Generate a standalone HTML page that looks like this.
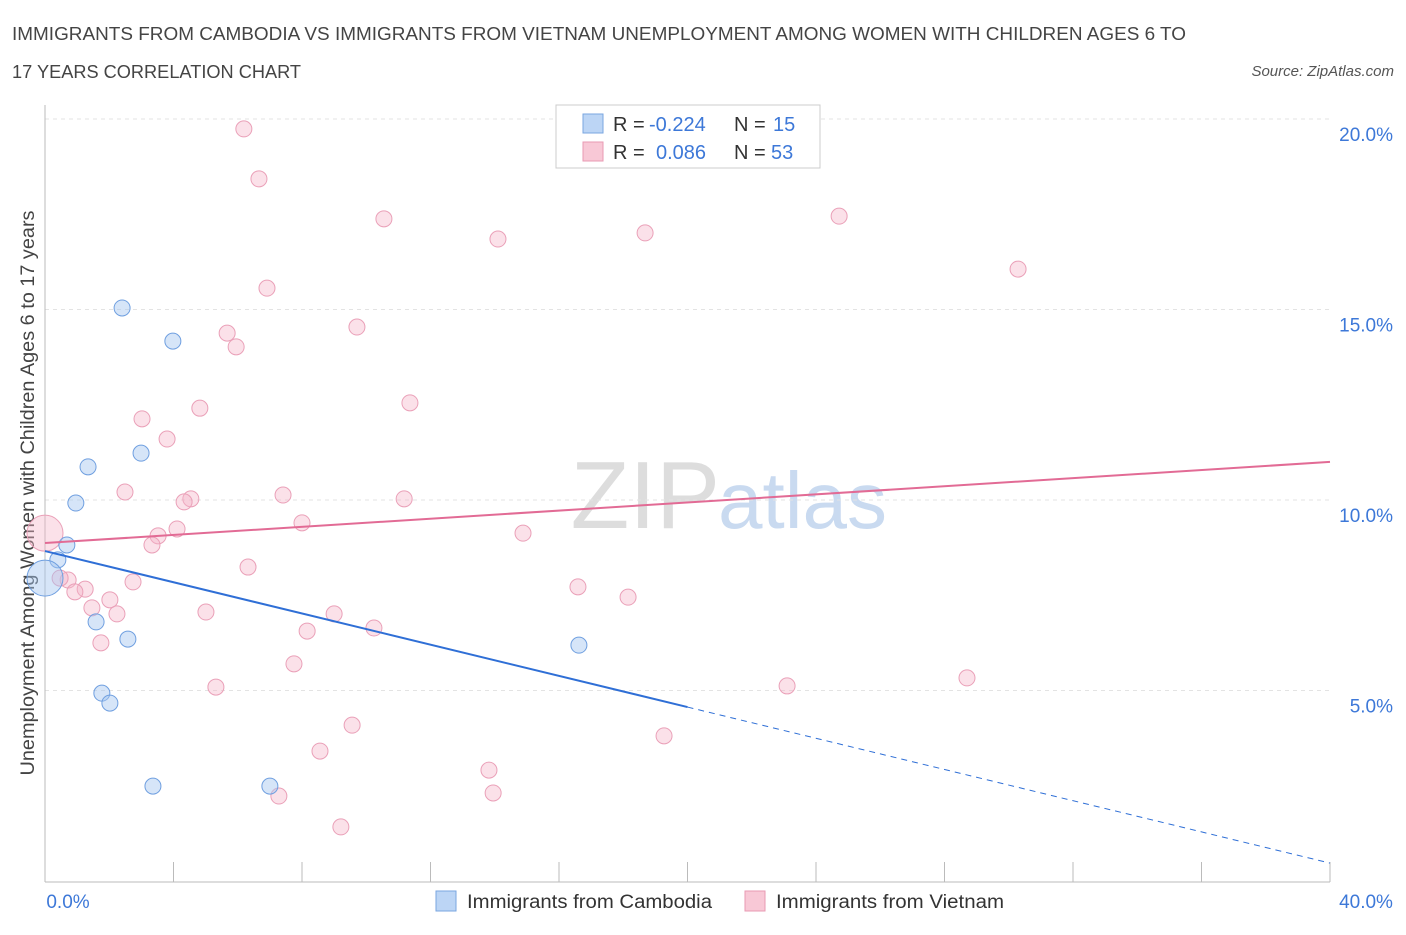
<!DOCTYPE html>
<html><head><meta charset="utf-8"><style>
body{margin:0;background:#fff;font-family:"Liberation Sans",sans-serif;}
svg text{font-family:"Liberation Sans",sans-serif;}
</style></head><body>
<svg id="c" width="1406" height="930">
<text x="12" y="40" font-size="18" fill="#444" textLength="1174" lengthAdjust="spacingAndGlyphs">IMMIGRANTS FROM CAMBODIA VS IMMIGRANTS FROM VIETNAM UNEMPLOYMENT AMONG WOMEN WITH CHILDREN AGES 6 TO</text>
<text x="12" y="78" font-size="18" fill="#444" textLength="289" lengthAdjust="spacingAndGlyphs">17 YEARS CORRELATION CHART</text>
<text x="1394" y="76" font-size="15" fill="#555" font-style="italic" text-anchor="end">Source: ZipAtlas.com</text>
<text x="720" y="528" font-size="96" fill="#ddd" font-family="Liberation Serif" text-anchor="end">ZIP</text>
<text x="718" y="528" font-size="80" fill="#c9daf0">atlas</text>
<text transform="translate(34,493) rotate(-90)" font-size="19" fill="#444" text-anchor="middle" textLength="565" lengthAdjust="spacingAndGlyphs">Unemployment Among Women with Children Ages 6 to 17 years</text>
<g id="grid"></g><g id="marks"></g>
<rect x="556" y="105" width="264" height="63" fill="#fff" stroke="#ccc"/>
<rect x="583" y="114" width="20" height="19" fill="#bcd5f5" stroke="#7aa6e0"/>
<rect x="583" y="142" width="20" height="19" fill="#f8c8d6" stroke="#e89ab3"/>
<g font-size="20">
<text x="613" y="131" fill="#333">R =</text><text x="649" y="131" fill="#3d78d8">-0.224</text><text x="734" y="131" fill="#333">N =</text><text x="773" y="131" fill="#3d78d8">15</text>
<text x="613" y="159" fill="#333">R =</text><text x="656" y="159" fill="#3d78d8">0.086</text><text x="734" y="159" fill="#333">N =</text><text x="771" y="159" fill="#3d78d8">53</text>
</g>
<rect x="436" y="891" width="20" height="20" fill="#bcd5f5" stroke="#7aa6e0"/>
<text x="467" y="908" font-size="19" fill="#333" textLength="245" lengthAdjust="spacingAndGlyphs">Immigrants from Cambodia</text>
<rect x="745" y="891" width="20" height="20" fill="#f8c8d6" stroke="#e89ab3"/>
<text x="776" y="908" font-size="19" fill="#333" textLength="228" lengthAdjust="spacingAndGlyphs">Immigrants from Vietnam</text>
</svg>
<script>
const yTicks=[5,10,15,20];
const xTickLabels=["0.0%","40.0%"];
const cambX=[2.40,3.98,2.99,1.34,0.96,0.68,0.40,0.0,1.59,2.58,1.77,2.02,3.36,7.00,16.62];
const cambY=[15.04,14.17,11.23,10.87,9.92,8.82,8.43,7.95,6.80,6.35,4.93,4.67,2.49,2.49,6.19];
const cambR=[8,8,8,8,8,8,8,18,8,8,8,8,8,8,8];
const vietX=[6.19,6.66,10.55,14.10,18.68,24.72,30.29,6.91,9.71,5.67,5.95,11.36,4.82,3.02,3.80,2.49,4.54,4.33,7.41,11.18,8.00,4.11,3.52,3.33,14.88,0,6.32,2.74,0.72,0.47,1.25,0.93,16.59,18.15,2.02,1.46,5.01,2.24,9.00,10.24,8.16,1.74,7.75,5.32,23.10,28.70,9.56,8.56,19.27,13.82,13.95,7.28,9.21];
const vietY=[19.74,18.43,17.38,16.85,17.01,17.45,16.06,15.56,14.54,14.38,14.02,12.55,12.41,12.13,11.60,10.21,10.03,9.95,10.13,10.03,9.40,9.24,9.06,8.82,9.13,9.13,8.24,7.85,7.90,7.95,7.66,7.59,7.72,7.45,7.38,7.17,7.06,7.01,7.01,6.64,6.56,6.25,5.70,5.09,5.12,5.33,4.09,3.41,3.81,2.91,2.31,2.23,1.42];
const cambLine=[8.66,0.47];
const vietLine=[8.87,11.0];
const NS="http://www.w3.org/2000/svg";
const X=v=>45+v*32.125, Y=v=>881-v*38.1;
function mk(p,t,a){const e=document.createElementNS(NS,t);for(const k in a)e.setAttribute(k,a[k]);p.appendChild(e);return e;}
const g=document.getElementById('grid'), m=document.getElementById('marks');
yTicks.forEach(t=>{
 let l=mk(g,'line',{x1:45,x2:1330,y1:Y(t),y2:Y(t),stroke:'#e3e3e3','stroke-dasharray':'4,4'});
 
 
 let tx=mk(g,'text',{x:1393,y:Y(t)+22,'font-size':19,fill:'#3d78d8','text-anchor':'end'});tx.textContent=t.toFixed(1)+'%';
 
 
});
let ax=mk(g,'line',{x1:45,x2:1330,y1:882,y2:882,stroke:'#bbb'});


let ay=mk(g,'line',{x1:45,x2:45,y1:105,y2:882,stroke:'#bbb'});


for(let i=0;i<=10;i++){let l=mk(g,'line',{x1:X(i*4),x2:X(i*4),y1:862,y2:882,stroke:'#bbb'});
 
 }
let xl0=mk(g,'text',{x:68,y:908,'font-size':19,fill:'#3d78d8','text-anchor':'middle'});xl0.textContent=xTickLabels[0];


let xl1=mk(g,'text',{x:1366,y:908,'font-size':19,fill:'#3d78d8','text-anchor':'middle'});xl1.textContent=xTickLabels[1];


vietX.forEach((v,i)=>{let c=mk(m,'circle',{cx:X(v),cy:Y(vietY[i]),r:i==25?18:8,fill:'rgba(246,180,200,0.4)',stroke:'#eaa0b8','stroke-width':1});
 
 });
cambX.forEach((v,i)=>{let c=mk(m,'circle',{cx:X(v),cy:Y(cambY[i]),r:cambR[i],fill:'rgba(165,198,240,0.45)',stroke:'#6f9fe0','stroke-width':1});
 
 });
const cy=x=>cambLine[0]+(cambLine[1]-cambLine[0])*x/40;
let b1=mk(m,'line',{x1:X(0),y1:Y(cy(0)),x2:X(20),y2:Y(cy(20)),stroke:'#2f6fd6','stroke-width':2});


let b2=mk(m,'line',{x1:X(20),y1:Y(cy(20)),x2:X(40),y2:Y(cy(40)),stroke:'#2f6fd6','stroke-width':1,'stroke-dasharray':'6,5'});


let p1=mk(m,'line',{x1:X(0),y1:Y(vietLine[0]),x2:X(40),y2:Y(vietLine[1]),stroke:'#e26b95','stroke-width':2});


</script>
</body></html>
